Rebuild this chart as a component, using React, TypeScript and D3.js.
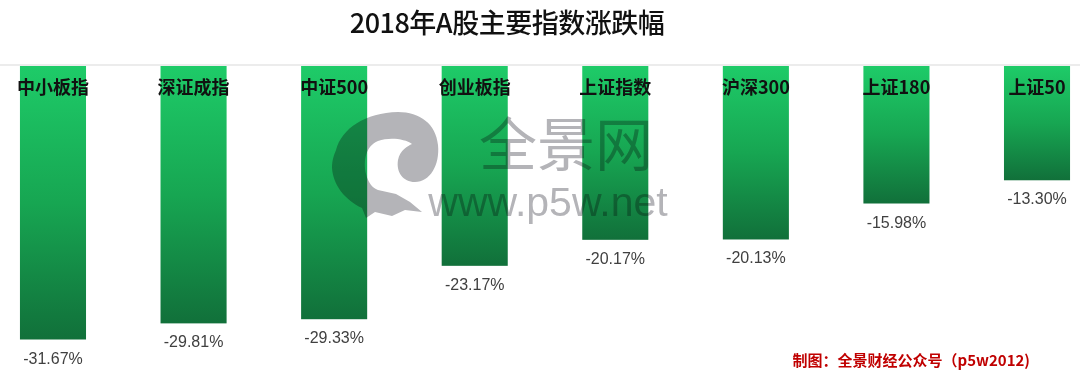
import React from "react";
import * as d3 from "d3";

const categories = ["中小板指", "深证成指", "中证500", "创业板指", "上证指数", "沪深300", "上证180", "上证50"];
const values = [-31.67, -29.81, -29.33, -23.17, -20.17, -20.13, -15.98, -13.3];
const title = "2018年A股主要指数涨跌幅";
const footer = "制图：全景财经公众号（p5w2012)";

const W = 1080;
const H = 377;

export default function App() {
  const x = d3.scaleBand<string>().domain(categories).range([-17.3, 1107.3]).paddingInner(0.53).paddingOuter(0.265);
  const y = d3.scaleLinear().domain([0, -31.67]).range([65, 339.5]);
  const cjk = "'Noto Sans CJK SC', 'Noto Sans', sans-serif";
  const logo =
    "M 336,150 C 342,128 365,113 398,112 C 420,112 436,124 438,145 C 440,165 430,182 415,182 C 403,182 396,172 398,160 C 400,150 408,146 412,144 C 405,139 390,137 378,141 C 366,146 363,160 366,174 C 368,182 372,188 378,190 L 396,194 L 410,202 L 422,212 L 405,210 L 392,216 L 375,212 L 366,218 L 362,208 C 345,200 333,185 332,168 C 332,160 334,155 336,150 Z";
  return (
    <svg width={W} height={H} style={{ position: "absolute", left: 0, top: 0, background: "#fff" }}>
      <defs>
        <linearGradient id="barGrad" x1="0" y1="0" x2="0" y2="1">
          <stop offset="0%" stopColor="#1ecb68" />
          <stop offset="50%" stopColor="#17a652" />
          <stop offset="100%" stopColor="#11703a" />
        </linearGradient>
      </defs>
      <text x={507} y={33} textAnchor="middle" fontFamily={cjk} fontSize={27} fontWeight={500} fill="#111" letterSpacing={-0.5}>
        {title}
      </text>
      <line x1={0} x2={W} y1={65} y2={65} stroke="#d9d9d9" strokeWidth={1} />
      {categories.map((c, i) => (
        <rect key={c} x={x(c)} y={y(0) + 1} width={x.bandwidth()} height={y(values[i]) - y(0) - 1} fill="url(#barGrad)" />
      ))}
      <g style={{ mixBlendMode: "multiply" }} fill="#b4b4b8">
        <path d={logo} />
        <text x={566} y={166} textAnchor="middle" fontFamily={cjk} fontSize={58} fill="#b4b4b8">全景网</text>
        <text x={548} y={216} textAnchor="middle" fontFamily="'Liberation Sans', sans-serif" fontSize={41} fill="#b4b4b8">www.p5w.net</text>
      </g>
      {categories.map((c) => (
        <text key={"l" + c} x={(x(c) as number) + x.bandwidth() / 2} y={94} textAnchor="middle" fontFamily={cjk} fontSize={18} fontWeight={700} fill="#111">
          {c}
        </text>
      ))}
      {categories.map((c, i) => (
        <text key={"v" + c} x={(x(c) as number) + x.bandwidth() / 2} y={y(values[i]) + 24} textAnchor="middle" fontFamily="'Liberation Sans', sans-serif" fontSize={16} fill="#404040">
          {values[i].toFixed(2) + "%"}
        </text>
      ))}
      <text x={1030} y={366} textAnchor="end" fontFamily={cjk} fontSize={15} fontWeight={700} fill="#c00000">
        {footer}
      </text>
    </svg>
  );
}
